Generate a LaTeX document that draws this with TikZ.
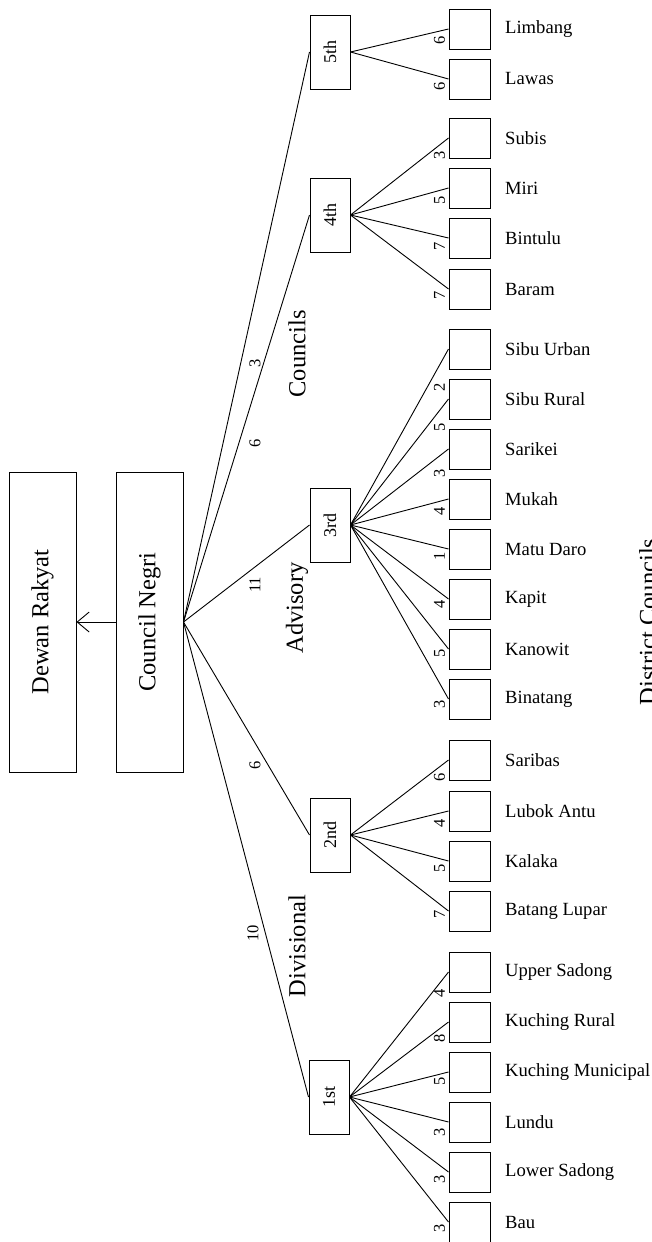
\documentclass[tikz,border=0pt]{standalone}
\usepackage{fontspec}
\setmainfont{Liberation Serif}
\usepackage{graphicx}
\usetikzlibrary{arrows.meta,calc}
\begin{document}
\begin{tikzpicture}[x=1pt,y=-1pt,
  bigbox/.style={draw, line width=1pt, minimum width=67pt, minimum height=300pt, inner sep=0pt,
    font=\fontsize{24.5}{28}\selectfont},
  divbox/.style={draw, line width=1pt, minimum width=40pt, minimum height=74pt, inner sep=0pt,
    font=\fontsize{18}{20}\selectfont},
  dbox/.style={draw, line width=1pt, minimum width=41pt, minimum height=40pt, inner sep=0pt},
  dname/.style={anchor=west, inner sep=0pt, font=\fontsize{18.6}{21}\selectfont},
  dig/.style={rotate=90, inner sep=0pt, font=\fontsize{16.5}{18}\selectfont},
  cat/.style={rotate=90, inner sep=0pt, font=\fontsize{24.5}{28}\selectfont},
  conn/.style={line width=0.9pt},
]
\useasboundingbox (0,0) rectangle (652,1242);

% top-level boxes
\node[bigbox] (dr) at (42.5,622) {\rotatebox{90}{Dewan Rakyat}};
\node[bigbox] (cn) at (149.5,622) {\rotatebox{90}{Council Negri}};
\draw[conn, -{Straight Barb[length=12pt,width=20pt,line width=0.9pt]}] (cn.west) -- (dr.east);

% divisional boxes
\node[divbox] (p5) at (330,52)   {\rotatebox{90}{5th}};
\node[divbox] (p4) at (330,215)  {\rotatebox{90}{4th}};
\node[divbox] (p3) at (330,525)  {\rotatebox{90}{3rd}};
\node[divbox] (p2) at (330,835)  {\rotatebox{90}{2nd}};
\node[divbox] (p1) at (329,1097) {\rotatebox{90}{1st}};

\foreach \p in {p5,p4,p3,p2,p1}
  \draw[conn] (cn.east) -- (\p.west);

% labels on the main connectors
\node[dig] (n5) at (255,363) {3};
\node[dig] (n4) at (255,443) {6};
\node[dig] (n3) at (255,585) {11};
\node[dig] (n2) at (255,765) {6};
\node[dig] (n1) at (253,933) {10};

% category words
\node[cat] (c1) at (297,354) {Councils};
\node[cat] (c2) at (297,608) {Advisory};
\node[cat] (c3) at (297,946) {Divisional};
\node[cat, anchor=north] (c4) at (639,622) {District Councils};

% district councils
\foreach \n/\t/\y/\d/\p/\o in {
  lim/Limbang/29/6/p5/11, law/Lawas/79/6/p5/7,
  sub/Subis/138/3/p4/17, mir/Miri/188/5/p4/12, bin/Bintulu/238/7/p4/8, bar/Baram/289/7/p4/6,
  sbu/Sibu Urban/349/2/p3/38, sbr/Sibu Rural/399/5/p3/28, sar/Sarikei/449/3/p3/24,
  muk/Mukah/499/4/p3/12, mat/Matu Daro/549/1/p3/7, kap/Kapit/599/4/p3/5,
  kan/Kanowit/649/5/p3/4, bnt/Binatang/699/3/p3/5,
  sbs/Saribas/760/6/p2/17, lub/Lubok Antu/811/4/p2/12, kal/Kalaka/861/5/p2/7, btl/Batang Lupar/911/7/p2/3,
  ups/Upper Sadong/972/4/p1/21, kur/Kuching Rural/1022/8/p1/16, kum/Kuching Municipal/1072/5/p1/9,
  lun/Lundu/1122/3/p1/10, los/Lower Sadong/1172/3/p1/7, bau/Bau/1222/3/p1/6}{
  \node[dbox] (\n) at (469.5,\y) {};
  \node[dname] (\n-t) at (505,\y) {\t};
  \draw[conn] (\p.east) -- (\n.west);
  \node[dig] (\n-d) at ($(\n.west)+(-9,\o)$) {\d};
}
\end{tikzpicture}
\end{document}
